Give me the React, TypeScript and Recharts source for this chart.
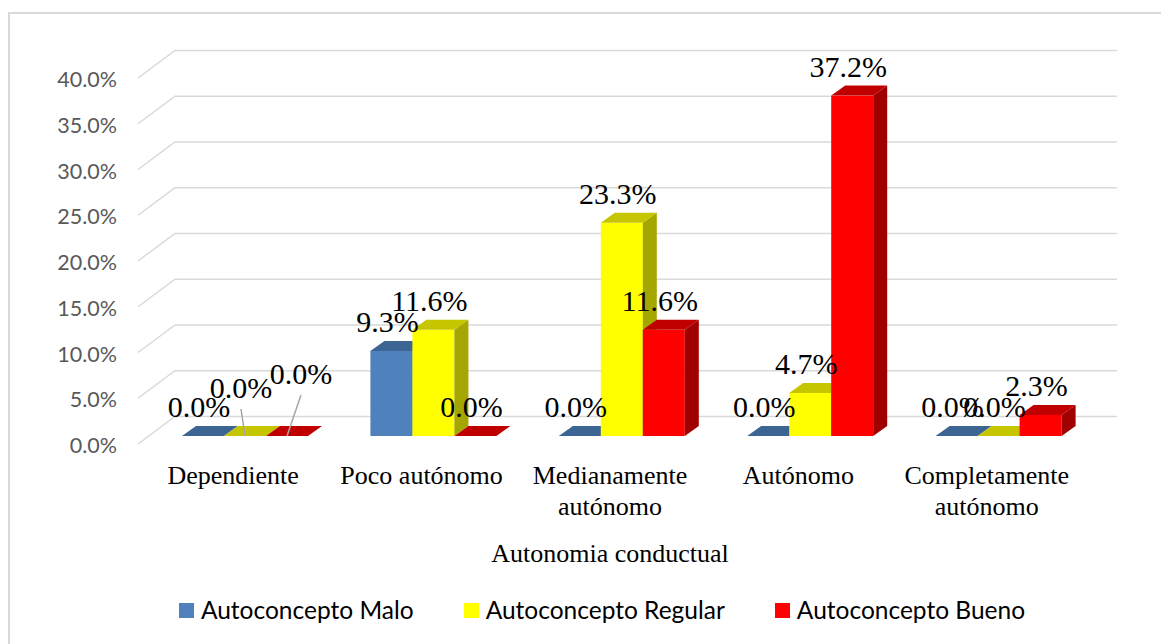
import React from 'react';
import { BarChart, Bar, XAxis, YAxis, ReferenceLine, LabelList, Label } from 'recharts';

// ---------- data ----------
const CATEGORIES = ['Dependiente', 'Poco autónomo', 'Medianamente autónomo', 'Autónomo', 'Completamente autónomo'];
const MALO = [0, 9.3, 0, 0, 0];
const REGULAR = [0, 11.6, 23.3, 4.7, 0];
const BUENO = [0, 0, 11.6, 37.2, 2.3];
const Y_TICKS = [0, 5, 10, 15, 20, 25, 30, 35, 40];
const SERIES_NAMES = ['Autoconcepto Malo', 'Autoconcepto Regular', 'Autoconcepto Bueno'];
const AXIS_TITLE = 'Autonomia conductual';

// ---------- styling ----------
const SERIES = [
  { key: 'malo', name: SERIES_NAMES[0], front: '#4F81BD', top: '#3D6594', side: '#385D8A' },
  { key: 'regular', name: SERIES_NAMES[1], front: '#FFFF00', top: '#C6C600', side: '#A6A600' },
  { key: 'bueno', name: SERIES_NAMES[2], front: '#FF0000', top: '#C00000', side: '#A00000' },
];
const DEPTH_X = 14;
const DEPTH_Y = 10;
const LABEL_NUDGES: Record<string, { dx: number; dy: number }> = {
  'regular-0': { dx: 0, dy: -19 },
  'bueno-0': { dx: 18, dy: -33 },
};
const SERIF = "'Liberation Serif', 'Times New Roman', serif";
const SANS = "Lato, 'Open Sans', sans-serif";

const data = CATEGORIES.map((category, i) => ({
  category,
  malo: MALO[i],
  regular: REGULAR[i],
  bueno: BUENO[i],
}));

const make3DShape = (s: typeof SERIES[number]) => (props: any) => {
  const x = Number(props.x);
  const y = Number(props.y);
  const w = Number(props.width);
  const h = Math.max(0, Number(props.height) || 0);
  return (
    <g>
      {h > 0 && <rect x={x} y={y} width={w} height={h} fill={s.front} />}
      {h > 0 && (
        <polygon
          points={`${x + w},${y} ${x + w + DEPTH_X},${y - DEPTH_Y} ${x + w + DEPTH_X},${y + h - DEPTH_Y} ${x + w},${y + h}`}
          fill={s.side}
        />
      )}
      <polygon
        points={`${x},${y} ${x + DEPTH_X},${y - DEPTH_Y} ${x + w + DEPTH_X},${y - DEPTH_Y} ${x + w},${y}`}
        fill={s.top}
      />
    </g>
  );
};

const makeLabel = (key: string) => (p: any) => {
  const vb = p.viewBox ?? p;
  const x = Number(vb.x ?? p.x);
  const y = Number(vb.y ?? p.y);
  const w = Number(vb.width ?? p.width);
  const idx = p.index;
  const nudge = LABEL_NUDGES[`${key}-${idx}`] ?? { dx: 0, dy: 0 };
  const bx = x + w / 2;
  const cx = bx - 4 + nudge.dx;
  const by = y - 19 + nudge.dy;
  return (
    <g>
      {(nudge.dx !== 0 || nudge.dy !== 0) && (
        <line x1={cx} y1={by + 11} x2={bx} y2={y} stroke="#A6A6A6" strokeWidth={1.5} />
      )}
      <text x={cx} y={by} textAnchor="middle" fontFamily={SERIF} fontSize={30} fill="#000">
        {`${Number(p.value).toFixed(1)}%`}
      </text>
    </g>
  );
};

const renderGrid = (p: any, t: number) => {
  const x1 = Math.min(Number(p.x1), Number(p.x2));
  const x2 = Math.max(Number(p.x1), Number(p.x2));
  const y = Number(p.y1);
  return (
    <g>
      <polyline
        points={`${x1 - 13},${y + 8} ${x1 + 24},${y - 19.5} ${x2 + 24},${y - 19.5}`}
        fill="none"
        stroke="#D9D9D9"
        strokeWidth={1.5}
      />
      <text
        x={x1 - 34}
        y={y + 9}
        textAnchor="end"
        dominantBaseline="central"
        fontFamily={SANS}
        fontSize={21.5}
        fill="#595959"
      >
        {`${t.toFixed(1)}%`}
      </text>
    </g>
  );
};

const wrapLabel = (s: string) => {
  if (s.length <= 14) return [s];
  const i = s.indexOf(' ');
  return i > 0 ? [s.slice(0, i), s.slice(i + 1)] : [s];
};

const CategoryTick = (p: any) => {
  const lines = wrapLabel(String(p.payload.value));
  const cx = Number(p.x) - 12;
  return (
    <text x={cx} y={Number(p.y)} textAnchor="middle" fontFamily={SERIF} fontSize={26} fill="#000">
      {lines.map((l, i) => (
        <tspan key={i} x={cx} dy={i === 0 ? 40 : 31}>
          {l}
        </tspan>
      ))}
    </text>
  );
};

const W = 1161;
const H = 636;

export default function App() {
  return (
    <div style={{ position: 'relative', width: W, height: H, overflow: 'hidden' }}>
      <style>{`body{overflow:hidden}`}</style>
      <div
        style={{
          position: 'absolute',
          left: 0,
          top: 4,
          right: -20,
          bottom: -20,
          borderLeft: '2px solid #D9D9D9',
          borderTop: '2px solid #D9D9D9',
          boxSizing: 'border-box',
        }}
      />
      <BarChart
        width={W}
        height={H}
        data={data}
        margin={{ top: 62, right: 76, bottom: 148, left: 143 }}
        barGap={0}
        style={{ position: 'absolute', left: 0, top: 0 }}
      >
        <XAxis
          dataKey="category"
          axisLine={false}
          tickLine={false}
          height={60}
          interval={0}
          tick={<CategoryTick />}
        >
          <Label
            content={(p: any) => {
              const vb = p.viewBox || {};
              return (
                <text
                  x={Number(vb.x) + Number(vb.width) / 2 - 12}
                  y={Number(vb.y) + 126}
                  textAnchor="middle"
                  fontFamily={SERIF}
                  fontSize={26}
                  fill="#000"
                >
                  {AXIS_TITLE}
                </text>
              );
            }}
          />
        </XAxis>
        <YAxis hide domain={[0, 40]} ticks={Y_TICKS} allowDataOverflow />
        {Y_TICKS.map((t) => (
          <ReferenceLine
            key={t}
            y={t}
            ifOverflow="visible"
            zIndex={-100}
            shape={(p: any) => renderGrid(p, t)}
          />
        ))}
        {SERIES.map((s) => (
          <Bar
            key={s.key}
            dataKey={s.key}
            name={s.name}
            fill={s.front}
            barSize={42}
            isAnimationActive={false}
            shape={make3DShape(s)}
          >
            <LabelList dataKey={s.key} content={makeLabel(s.key)} />
          </Bar>
        ))}
      </BarChart>
      <div
        style={{
          position: 'absolute',
          left: 0,
          right: 0,
          top: 589,
          height: 26,
          display: 'flex',
          alignItems: 'center',
          justifyContent: 'center',
          paddingLeft: 27,
          fontFamily: SANS,
          fontSize: 24.5,
          color: '#000',
          gap: 50,
        }}
      >
        {SERIES.map((s) => (
          <div key={s.key} style={{ display: 'flex', alignItems: 'center', gap: 7 }}>
            <div style={{ width: 15, height: 15, background: s.front }} />
            <span style={{ lineHeight: '26px' }}>{s.name}</span>
          </div>
        ))}
      </div>
    </div>
  );
}
